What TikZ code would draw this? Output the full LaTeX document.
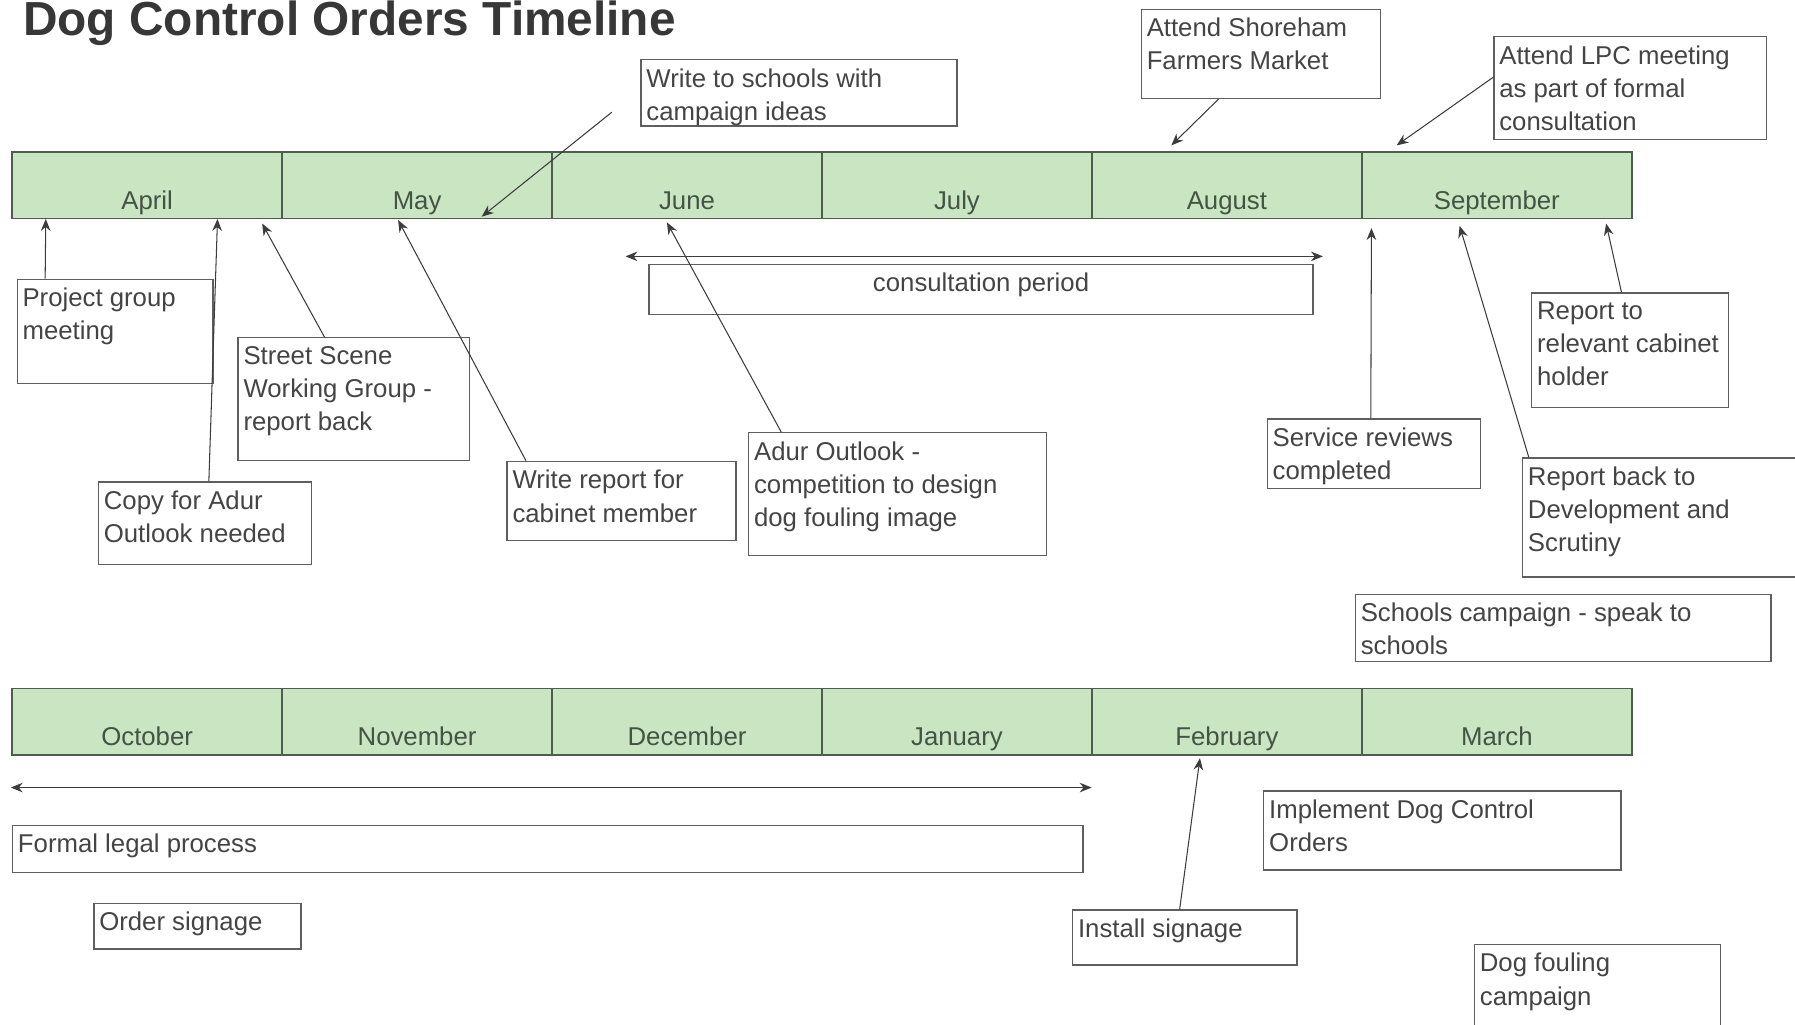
\documentclass[tikz,border=0pt]{standalone}
\usepackage{fontspec}
\setmainfont{Liberation Sans}
\usepackage{tikz}
\usetikzlibrary{fit,positioning,calc,arrows.meta}
\definecolor{barfill}{RGB}{201,229,194}
\definecolor{barline}{RGB}{78,94,78}
\definecolor{monthtext}{RGB}{68,84,68}
\definecolor{boxline}{RGB}{95,95,95}
\definecolor{textgray}{RGB}{68,68,68}
\definecolor{pinline}{RGB}{60,60,60}
\definecolor{titlegray}{RGB}{55,55,55}

\begin{document}
\begin{tikzpicture}[x=0.25mm,y=-0.25mm,>={Stealth[length=2.6mm,width=2.1mm]}]
    \tikzset{
        month/.style={
            draw=barline,
            fill=barfill,
            line width=0.9pt,
            inner sep=0pt,
            minimum width=58.95mm,
            text height=12.5mm,
            text depth=2mm,
            text=monthtext,
            font=\fontsize{16}{20.6}\selectfont
        },
        evbox/.style={
            draw=boxline,
            line width=0.8pt,
            inner sep=0pt
        },
        evtext/.style={
            anchor=north west,
            align=left,
            inner xsep=1.25mm,
            inner ysep=2mm,
            text=textgray,
            font=\fontsize{16}{20.6}\selectfont
        },
        pin/.style={
            ->,
            draw=pinline,
            line width=0.65pt
        },
        span/.style={
            <->,
            draw=pinline,
            line width=0.65pt
        }
    }

    \useasboundingbox (0,0) rectangle (1568,895);

    % Title
    \node[anchor=base west,inner sep=0pt,text=titlegray,
        font=\fontsize{29.7}{32}\selectfont\bfseries] (title) at (20,31)
        {Dog Control Orders Timeline};

    % Months
    \foreach \m [count=\i] in {April,May,June,July,August,September}
        \node[month,anchor=north west] (\m) at ({10+(\i-1)*235.8},132) {\m};
    \foreach \m [count=\i] in {October,November,December,January,February,March}
        \node[month,anchor=north west] (\m) at ({10+(\i-1)*235.8},601) {\m};

    % Events above the first bar
    \node[evbox,fit={(560,52) (836,110)},
        label={[evtext]north west:{Write to schools with\\campaign ideas}}] (schools) {};
    \node[evbox,fit={(997,8) (1206,86)},
        label={[evtext]north west:{Attend Shoreham\\Farmers Market}}] (market) {};
    \node[evbox,fit={(1305,32) (1543,122)},
        label={[evtext]north west:{Attend LPC meeting\\as part of formal\\consultation}}] (lpc) {};

    % Events below the first bar
    \node[evbox,fit={(15,244) (186,335)},
        label={[evtext]north west:{Project group\\meeting}}] (proj) {};
    \node[evbox,fit={(208,295) (410,402)},
        label={[evtext]north west:{Street Scene\\Working Group -\\report back}}] (street) {};
    \node[evbox,fit={(86,421) (272,493)},
        label={[evtext]north west:{Copy for Adur\\Outlook needed}}] (copy) {};
    \node[evbox,fit={(443,403) (643,472)},
        label={[evtext]north west:{Write report for\\cabinet member}}] (report) {};
    \node[evbox,fit={(654,378) (914,485)},
        label={[evtext]north west:{Adur Outlook -\\competition to design\\dog fouling image}}] (adur) {};
    \node[evbox,fit={(567,231) (1147,275)},
        label={[evtext,anchor=north]north:consultation period}] (consult) {};
    \node[evbox,fit={(1107,366) (1293,427)},
        label={[evtext]north west:{Service reviews\\completed}}] (service) {};
    \node[evbox,fit={(1338,256) (1510,356)},
        label={[evtext]north west:{Report to\\relevant cabinet\\holder}}] (cabinet) {};
    \node[evbox,fit={(1330,400) (1580,504)},
        label={[evtext]north west:{Report back to\\Development and\\Scrutiny}}] (devscr) {};
    \node[evbox,fit={(1184,519) (1547,578)},
        label={[evtext]north west:{Schools campaign - speak to\\schools}}] (schoolcamp) {};

    % Events below the second bar
    \node[evbox,fit={(11,721) (946,762)},
        label={[evtext]north west:Formal legal process}] (legal) {};
    \node[evbox,fit={(1104,691) (1416,760)},
        label={[evtext]north west:{Implement Dog Control\\Orders}}] (implement) {};
    \node[evbox,fit={(82,789) (263,829)},
        label={[evtext]north west:Order signage}] (order) {};
    \node[evbox,fit={(937,795) (1133,843)},
        label={[evtext]north west:Install signage}] (install) {};
    \node[evbox,fit={(1288,825) (1503,905)},
        label={[evtext]north west:{Dog fouling\\campaign}}] (fouling) {};

    % Pointers to the months
    \coordinate (schoolsTail) at ($(schools.west)+(-25,17)$);
    \draw[pin] (schoolsTail) -- ($(May.south west)+(175,-2)$);
    \draw[pin] ($(market.south west)+(68,0)$) -- ($(August.north west)+(70,-5)$);
    \draw[pin] ($(lpc.north west)+(0,36)$) -- ($(September.north west)+(31,-5)$);
    \draw[pin] ($(proj.north west)+(25,0)$) -- ($(April.south west)+(30,0)$);
    \draw[pin] ($(copy.north west)+(97,0)$) -- ($(April.south west)+(180,0)$);
    \draw[pin] ($(street.north west)+(76,0)$) -- ($(April.south west)+(219,4)$);
    \draw[pin] ($(report.north west)+(17,0)$) -- ($(May.south west)+(102,1)$);
    \draw[pin] ($(adur.north west)+(29,0)$) -- ($(June.south west)+(101,3)$);
    \draw[pin] ($(service.north west)+(91,0)$) -- ($(September.south west)+(9,8)$);
    \draw[pin] ($(devscr.north west)+(6,0)$) -- ($(September.south west)+(86,6)$);
    \draw[pin] ($(cabinet.north west)+(79,0)$) -- ($(September.south west)+(214,4)$);
    \draw[pin] ($(install.north west)+(94,0)$) -- ($(February.south west)+(95,2)$);

    % Periods
    \draw[span] ($(consult.north west)+(-20,-6.5)$) -- ($(consult.north east)+(8,-6.5)$);
    \draw[span] ($(legal.north west)+(-1,-32.5)$) -- ($(legal.north east)+(7,-32.5)$);
\end{tikzpicture}
\end{document}
